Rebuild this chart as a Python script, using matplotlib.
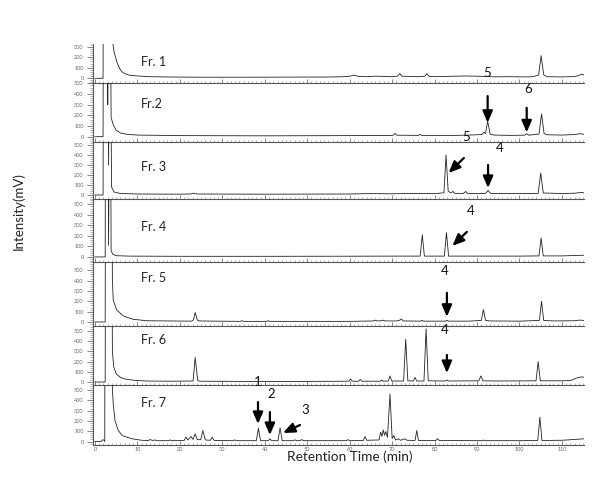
import matplotlib.pyplot as plt
from matplotlib.ticker import MultipleLocator

plt.rcParams['font.family'] = ['Lato', 'DejaVu Sans']

fractions = ['Fr. 1', 'Fr.2', 'Fr. 3', 'Fr. 4', 'Fr. 5', 'Fr. 6', 'Fr. 7']

# chromatogram traces: (retention time in min, intensity in mV)
# 2000 stands for off-scale (solvent front)
fr1 = [(0, 0), (1.9, 0), (2.0, 2000), (3.7, 2000), (3.9, 420), (4.5, 250), (5.2, 150),
       (5.7, 100), (6.1, 75), (6.4, 60), (7, 45), (8, 30), (10, 22), (13, 15), (18, 12),
       (25, 10), (35, 10), (45, 11), (55, 12), (58, 14), (60, 20), (61, 30), (62, 18),
       (64, 15), (66, 20), (68, 18), (70, 15), (71.3, 20), (71.8, 45), (72.3, 20), (74, 18),
       (76, 15), (77.7, 20), (78.2, 45), (78.7, 18), (80, 15), (83, 18), (87, 22), (90, 20),
       (94, 14), (98, 15), (101, 13), (103, 15), (104.5, 30), (105.1, 215), (105.7, 35),
       (106.4, 15), (110, 13), (113, 16), (114.2, 30), (114.7, 40), (115.2, 30)]
fr2 = [(0, 0), (1.9, 0), (2.0, 2000), (2.9, 2000), (3.0, 300), (3.2, 2000), (3.5, 2000),
       (3.8, 180), (4.3, 110), (5, 60), (6, 35), (7.5, 22), (10, 15), (20, 10), (40, 8),
       (60, 10), (70, 12), (70.3, 15), (70.7, 30), (71.1, 14), (76.2, 12), (76.6, 22),
       (77, 12), (85, 12), (88, 15), (90, 18), (91.1, 20), (91.6, 40), (92.0, 30),
       (92.5, 145), (93.1, 22), (94, 15), (98, 12), (101.2, 14), (101.7, 28), (102.2, 14),
       (104.6, 25), (105.2, 212), (105.8, 28), (106.5, 18), (110, 15), (113, 20),
       (114.3, 28), (115.2, 22)]
fr3 = [(0, 0), (1.9, 0), (2.0, 2000), (3.0, 2000), (3.2, 300), (3.4, 2000), (3.6, 2000),
       (3.9, 80), (4.5, 30), (6, 15), (10, 10), (20, 8), (22.5, 10), (23.2, 18), (24, 10),
       (40, 8), (60, 10), (65, 14), (70, 12), (75, 16), (80, 14), (82.2, 22), (82.7, 400),
       (83.2, 40), (83.8, 20), (84.3, 35), (84.8, 16), (86.8, 16), (87.3, 35), (87.8, 16),
       (92.0, 16), (92.6, 45), (93.2, 16), (98, 14), (104.4, 16), (105.0, 220), (105.6, 20),
       (110, 15), (113, 18), (114.5, 25), (115.2, 22)]
fr4 = [(0, 0), (2.4, 0), (2.5, 2000), (3.0, 2000), (3.2, 110), (3.4, 2000), (3.6, 2000),
       (3.8, 60), (4.2, 25), (5, 12), (8, 8), (20, 6), (40, 6), (60, 7), (70, 8), (76.6, 8),
       (77.1, 210), (77.6, 8), (82.3, 8), (82.8, 231), (83.3, 8), (90, 8), (100, 8),
       (104.6, 10), (105.1, 180), (105.6, 10), (110, 10), (113, 14), (115.2, 16)]
fr5 = [(0, 0), (2.4, 0), (2.5, 2000), (3.9, 2000), (4.1, 400), (4.3, 213), (5.1, 116),
       (6.7, 58), (9, 26), (12.2, 12), (17, 10), (22.8, 8), (23.2, 20), (23.6, 92),
       (24.1, 20), (24.6, 10), (28, 8), (34.2, 6), (34.6, 12), (35.0, 6), (40.4, 6),
       (40.8, 12), (41.2, 6), (50, 6), (60, 6), (63, 8), (65.6, 10), (66, 18), (66.4, 10),
       (67.5, 12), (67.9, 18), (68.3, 10), (71, 10), (71.8, 18), (72.2, 28), (72.6, 10),
       (76.6, 8), (77, 16), (77.4, 8), (80, 8), (82.5, 8), (82.9, 15), (83.3, 8), (88, 8),
       (91.0, 15), (91.5, 120), (92.0, 15), (93, 10), (100, 8), (104.7, 15), (105.2, 200),
       (105.7, 15), (108, 10), (113, 12), (114, 18), (115.2, 15)]
fr6 = [(0, 0), (2.4, 0), (2.5, 2000), (3.9, 2000), (4.1, 300), (4.4, 150), (5, 80),
       (6, 45), (7, 30), (9, 18), (12, 10), (18, 8), (23.1, 10), (23.6, 240), (24.2, 12),
       (25, 8), (35, 6), (50, 6), (59.8, 8), (60.2, 30), (60.6, 8), (62.1, 8), (62.5, 25),
       (62.9, 8), (67.2, 8), (67.5, 20), (67.8, 8), (69.1, 10), (69.5, 60), (69.9, 10),
       (72.7, 10), (73.2, 418), (73.7, 12), (75.0, 10), (75.4, 45), (75.8, 10), (77.5, 10),
       (78.0, 520), (78.5, 12), (82.5, 10), (82.9, 20), (83.3, 10), (90.4, 12), (90.9, 60),
       (91.4, 12), (95, 10), (103.9, 12), (104.4, 200), (104.9, 12), (110, 12), (112, 15),
       (113.5, 40), (114.5, 50), (115.2, 48)]
fr7 = [(0, 0), (1.5, 0), (1.7, 15), (2.1, 15), (2.3, 0), (2.35, 2000), (3.9, 2000),
       (4.1, 500), (4.3, 365), (4.7, 203), (5.5, 106), (6.4, 58), (8.8, 26), (11, 12),
       (12.6, 10), (13, 20), (13.5, 10), (14.1, 15), (14.6, 8), (17.3, 8), (17.7, 15),
       (18.2, 8), (18.8, 12), (19.3, 8), (21.0, 10), (21.4, 42), (21.9, 15), (22.6, 48),
       (23.1, 20), (23.6, 74), (24.1, 18), (24.9, 18), (25.4, 106), (26.0, 15), (27.2, 12),
       (27.6, 42), (28.1, 10), (32.5, 8), (32.9, 16), (33.3, 8), (38.0, 8), (38.5, 129),
       (39.0, 8), (40.8, 8), (41.2, 26), (41.6, 8), (43.1, 8), (43.6, 132), (44.1, 8),
       (46.7, 8), (47.1, 16), (47.5, 8), (48.3, 8), (48.7, 19), (49.1, 8), (55, 8),
       (59.2, 8), (59.6, 18), (60.0, 8), (63.2, 10), (63.6, 48), (64.0, 12), (66.9, 15),
       (67.3, 90), (67.6, 50), (67.9, 113), (68.2, 60), (68.5, 97), (68.9, 40), (69.5, 461),
       (70.0, 30), (70.4, 58), (70.8, 15), (71.5, 26), (72.0, 12), (73.0, 26), (73.5, 12),
       (75.4, 10), (75.8, 106), (76.2, 10), (80.3, 10), (80.7, 26), (81.1, 10), (91.1, 8),
       (91.5, 14), (91.9, 8), (100, 8), (104.3, 10), (104.8, 235), (105.3, 10), (110, 12),
       (113, 20), (115.2, 26)]
traces = [fr1, fr2, fr3, fr4, fr5, fr6, fr7]

# marked peaks: panel index, peak number, label spot, arrow tail, arrow head
marks = [
    (1, '5', (92.3, 595), (92.5, 380), (92.5, 130)),
    (1, '6', (102.0, 446), (101.7, 270), (101.7, 40)),
    (2, '5', (87.4, 580), (86.9, 370), (83.3, 220)),
    (2, '4', (95.4, 470), (92.6, 300), (92.6, 70)),
    (3, '4', (88.6, 438), (87.6, 238), (84.2, 105)),
    (4, '4', (82.4, 495), (82.9, 282), (82.9, 50)),
    (5, '4', (82.4, 510), (82.9, 265), (82.9, 88)),
    (6, '1', (38.4, 578), (38.4, 383), (38.4, 170)),
    (6, '2', (41.5, 461), (41.2, 286), (41.2, 63)),
    (6, '3', (49.5, 306), (48.3, 160), (44.3, 83)),
]

W, H = 600, 484
left_px, right_px = 93.3, 584
panel_px = [(44, 82.7), (82.7, 141.7), (141.7, 199.3), (199.3, 262),
            (262, 325.7), (325.7, 385), (385, 444.5)]
ylims = [(-42, 326), (-47, 505), (-43, 533), (-48, 548), (-36, 580), (-29, 551), (-29, 548)]
name_y = [155, 305, 280, 286, 427, 412, 374]

fig = plt.figure(figsize=(W / 100, H / 100), dpi=100)
axes = []
for i, tr in enumerate(traces):
    top, bot = panel_px[i]
    ax = fig.add_axes([left_px / W, 1 - bot / H, (right_px - left_px) / W, (bot - top) / H])
    ax.set_facecolor('none')
    t = [p[0] for p in tr]
    mv = [p[1] for p in tr]
    ax.plot(t, mv, color='#222222', lw=0.6)
    ax.set_xlim(-0.4, 115.2)
    ax.set_ylim(*ylims[i])
    for s in ['top', 'right']:
        ax.spines[s].set_visible(False)
    for s in ['left', 'bottom']:
        ax.spines[s].set_color('#555555')
        ax.spines[s].set_linewidth(0.8)
    ax.xaxis.set_major_locator(MultipleLocator(10))
    ax.xaxis.set_minor_locator(MultipleLocator(1))
    ax.yaxis.set_major_locator(MultipleLocator(100))
    ax.yaxis.set_minor_locator(MultipleLocator(20))
    ax.tick_params(axis='x', which='major', direction='in', length=3, width=0.5,
                   color='#555555', labelsize=4, labelcolor='#666666', pad=1.5)
    ax.tick_params(axis='x', which='minor', direction='in', length=1.5, width=0.4, color='#777777')
    ax.tick_params(axis='y', which='major', direction='out', length=4, width=0.5,
                   color='#555555', labelsize=4, labelcolor='#666666', pad=3)
    ax.tick_params(axis='y', which='minor', direction='out', length=2, width=0.4, color='#777777')
    if i < len(traces) - 1:
        ax.tick_params(axis='x', labelbottom=False)
    ax.text(10.8, name_y[i], fractions[i], fontsize=9, va='center', ha='left', color='#222222')
    axes.append(ax)

for pi, lab, txy, a0, a1 in marks:
    ax = axes[pi]
    ax.text(txy[0], txy[1], lab, fontsize=9.5, ha='center', va='center', color='#111111',
            clip_on=False)
    ax.annotate('', xy=a1, xytext=a0, annotation_clip=False,
                arrowprops=dict(arrowstyle='-|>,head_length=0.7,head_width=0.3',
                                color='black', lw=1.6, shrinkA=0, shrinkB=0))

fig.text(18 / W, 1 - 211 / H, 'Intensity(mV)', rotation=90, fontsize=9.5,
         ha='center', va='center', color='#222222')
fig.text(350 / W, 1 - 457 / H, 'Retention Time (min)', fontsize=9.8,
         ha='center', va='center', color='#222222')

fig.savefig('out.png', dpi=100)
